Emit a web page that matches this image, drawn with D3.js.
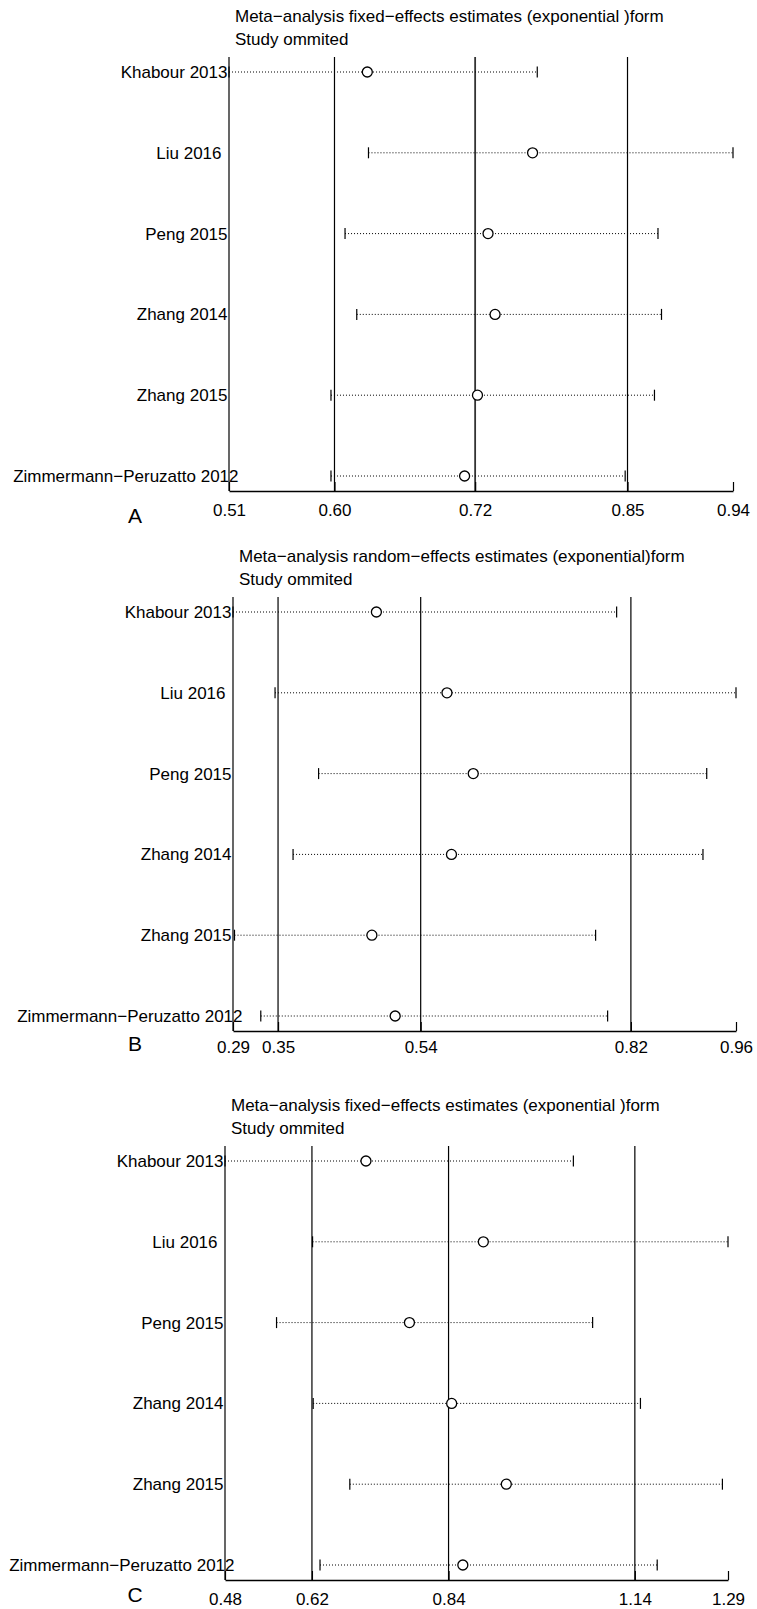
<!DOCTYPE html>
<html>
<head>
<meta charset="utf-8">
<script src="https://cdn.jsdelivr.net/npm/d3@7"></script>
<style>
  html, body { margin: 0; padding: 0; background: #fff; }
  svg { display: block; }
  text { font-family: "Liberation Sans", Arial, Helvetica, sans-serif; fill: #000; }
</style>
</head>
<body>
<svg id="chart" width="757" height="1609"></svg>
<script>
// ---------- data ----------
const studies = ["Khabour 2013", "Liu 2016", "Peng 2015", "Zhang 2014", "Zhang 2015", "Zimmermann−Peruzatto 2012"];

// Panel A: fixed-effects
const estA = [0.628, 0.769, 0.731, 0.737, 0.722, 0.711];
const lowA = [0.510, 0.629, 0.609, 0.619, 0.597, 0.597];
const highA = [0.773, 0.940, 0.876, 0.879, 0.873, 0.848];
const ticksA = [0.51, 0.60, 0.72, 0.85, 0.94];

// Panel B: random-effects
const estB = [0.481, 0.575, 0.610, 0.581, 0.475, 0.506];
const lowB = [0.290, 0.346, 0.404, 0.370, 0.292, 0.327];
const highB = [0.801, 0.960, 0.921, 0.916, 0.773, 0.789];
const ticksB = [0.29, 0.35, 0.54, 0.82, 0.96];

// Panel C: fixed-effects
const estC = [0.707, 0.896, 0.777, 0.845, 0.933, 0.863];
const lowC = [0.480, 0.621, 0.563, 0.622, 0.681, 0.633];
const highC = [1.041, 1.290, 1.072, 1.149, 1.281, 1.176];
const ticksC = [0.48, 0.62, 0.84, 1.14, 1.29];

const titleFixed = "Meta−analysis fixed−effects estimates (exponential )form";
const titleRandom = "Meta−analysis random−effects estimates (exponential)form";
const subtitle = "Study ommited";
const letters = ["A", "B", "C"];

// ---------- layout (styling) ----------
const panels = [
  { est: estA, low: lowA, high: highA, ticks: ticksA, title: titleFixed,
    oy: 0, x0: 229, x1: 733, letterY: 515, labelPad: 13, midWidth: 1.8 },
  { est: estB, low: lowB, high: highB, ticks: ticksB, title: titleRandom,
    oy: 540, x0: 233, x1: 736, letterY: 503, labelPad: 10, midWidth: 1.2 },
  { est: estC, low: lowC, high: highC, ticks: ticksC, title: titleFixed,
    oy: 1089, x0: 225, x1: 728, letterY: 505, labelPad: 13, midWidth: 1.2 }
];
const labelNudge = { "Liu 2016": -6, "Zimmermann−Peruzatto 2012": 11 };

const svg = d3.select("#chart");
const FS = 17;

panels.forEach((p, pi) => {
  const g = svg.append("g").attr("transform", `translate(0,${p.oy})`);
  const x = d3.scaleLinear().domain([p.ticks[0], p.ticks[p.ticks.length - 1]]).range([p.x0, p.x1]);
  const y = d3.scalePoint().domain(studies).range([72, 476]);
  const topY = 57, axisY = 491;

  // titles
  g.append("text").attr("x", p.x0 + 6).attr("y", 22).style("font-size", FS + "px").text(p.title);
  g.append("text").attr("x", p.x0 + 6).attr("y", 45).style("font-size", FS + "px").text(subtitle);

  // vertical reference lines (all ticks except the last)
  g.selectAll("line.ref").data(p.ticks.slice(0, p.ticks.length - 1)).enter().append("line")
    .attr("class", "ref")
    .attr("x1", d => x(d)).attr("x2", d => x(d))
    .attr("y1", topY).attr("y2", axisY)
    .attr("stroke", (d, i) => i === 2 && p.midWidth > 1.5 ? "#333" : "#000")
    .attr("stroke-width", (d, i) => i === 2 ? p.midWidth : 1.2);

  // axis
  const axis = d3.axisBottom(x).tickValues(p.ticks).tickFormat(d3.format(".2f"))
    .tickSizeInner(-9).tickSizeOuter(0).tickPadding(p.labelPad);
  const ag = g.append("g").attr("transform", `translate(0,${axisY})`).call(axis);
  ag.select(".domain").attr("stroke", "#000").attr("stroke-width", 1.6);
  ag.selectAll(".tick line").attr("stroke", "#000").attr("stroke-width", 1.2);
  ag.selectAll(".tick text").style("font-size", FS + "px")
    .style("font-family", '"Liberation Sans", Arial, sans-serif').attr("fill", "#000");

  // panel letter
  g.append("text").attr("x", 135).attr("y", p.letterY).attr("dy", "0.36em")
    .attr("text-anchor", "middle").style("font-size", "21px").text(letters[pi]);

  // rows
  const rows = g.selectAll("g.row").data(studies).enter().append("g").attr("class", "row");
  rows.append("text")
    .attr("x", d => p.x0 - 1.5 + (labelNudge[d] || 0))
    .attr("y", d => y(d)).attr("dy", "0.35em")
    .attr("text-anchor", "end").style("font-size", FS + "px").text(d => d);
  rows.append("line")
    .attr("x1", (d, i) => x(p.low[i])).attr("x2", (d, i) => x(p.high[i]))
    .attr("y1", d => y(d)).attr("y2", d => y(d))
    .attr("stroke", "#000").attr("stroke-width", 1).attr("stroke-dasharray", "1,2");
  rows.append("line")
    .attr("x1", (d, i) => x(p.low[i])).attr("x2", (d, i) => x(p.low[i]))
    .attr("y1", d => y(d) - 5.5).attr("y2", d => y(d) + 5.5)
    .attr("stroke", "#000").attr("stroke-width", 1.2);
  rows.append("line")
    .attr("x1", (d, i) => x(p.high[i])).attr("x2", (d, i) => x(p.high[i]))
    .attr("y1", d => y(d) - 5.5).attr("y2", d => y(d) + 5.5)
    .attr("stroke", "#000").attr("stroke-width", 1.2);
  rows.append("circle")
    .attr("cx", (d, i) => x(p.est[i])).attr("cy", d => y(d)).attr("r", 5)
    .attr("fill", "#fff").attr("stroke", "#000").attr("stroke-width", 1.3);
});
</script>
</body>
</html>
